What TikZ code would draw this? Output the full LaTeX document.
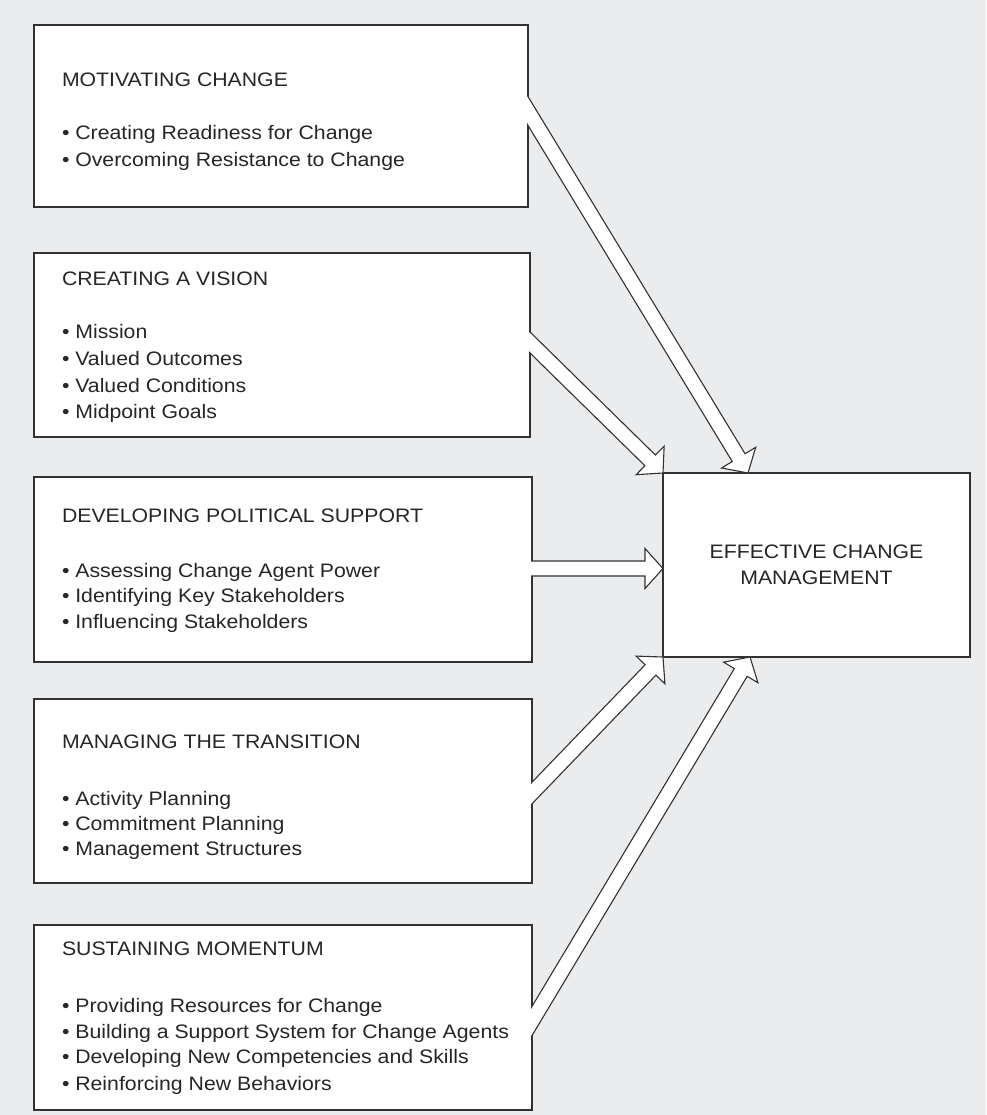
\documentclass[tikz,border=0pt]{standalone}
\usepackage{fontspec}
\setmainfont{Liberation Sans}[FakeStretch=1.09]
\usetikzlibrary{calc}

\definecolor{paper}{RGB}{234,236,238}
\definecolor{ink}{RGB}{50,50,50}
\definecolor{txt}{RGB}{38,38,38}

\tikzset{
  box/.style={rectangle, draw=ink, line width=1.3pt, fill=white,
    inner sep=0pt, outer sep=0pt, anchor=north west},
  head/.style={anchor=base west, inner sep=0pt, outer sep=0pt, text=txt,
    font=\fontsize{19.5}{26}\selectfont},
  item/.style={head},
  arrowline/.style={draw=ink, line width=1.1pt, line join=miter},
}

% half shaft width, half head width, head length of the block arrows
\newcommand\shafthw{7.5pt}
\newcommand\headhw{20pt}
\newcommand\headlen{18pt}

% white block arrow from a point on a box edge (#1) to its tip (#2);
% the tail is tucked into the source box so the box border opens up
\newcommand\fatarrow[2]{%
  \begin{scope}
    \clip ($(#1)+(-0.8,-1200)$) rectangle ($(#1)+(700,1200)$);
    \coordinate (fa-a) at ($(#1)!-14pt!(#2)$);
    \coordinate (fa-n) at ($(#2)!\headlen!(#1)$);
    \coordinate (fa-1) at ($(fa-a)!\shafthw!90:(#2)$);
    \coordinate (fa-2) at ($(fa-n)!\shafthw!90:(#2)$);
    \coordinate (fa-3) at ($(fa-n)!\headhw!90:(#2)$);
    \coordinate (fa-4) at ($(fa-n)!\headhw!-90:(#2)$);
    \coordinate (fa-5) at ($(fa-n)!\shafthw!-90:(#2)$);
    \coordinate (fa-6) at ($(fa-a)!\shafthw!-90:(#2)$);
    \fill[white] (fa-1) -- (fa-2) -- (fa-3) -- (#2) -- (fa-4) -- (fa-5) -- (fa-6) -- cycle;
    \draw[arrowline] (fa-1) -- (fa-2) -- (fa-3) -- (#2) -- (fa-4) -- (fa-5) -- (fa-6);
  \end{scope}}

\begin{document}
\begin{tikzpicture}[x=1pt, y=-1pt]
  \useasboundingbox (0,0) rectangle (986,1115);
  \fill[paper] (0,0) rectangle (986,1115);

  % source boxes
  \node[box, minimum width=494, minimum height=182] (m1) at (34,25) {};
  \node[box, minimum width=496, minimum height=184] (m2) at (34,253) {};
  \node[box, minimum width=498, minimum height=185] (m3) at (34,477) {};
  \node[box, minimum width=498, minimum height=184] (m4) at (34,699) {};
  \node[box, minimum width=498, minimum height=185] (m5) at (34,925) {};

  % target box
  \node[box, minimum width=307, minimum height=184, align=center, text=txt,
        font=\fontsize{19.5}{26}\selectfont] (ecm) at (663,473)
        {EFFECTIVE CHANGE\\MANAGEMENT};

  % box texts
  \node[head] (m1h)  at ($(m1.north west)+(28,62)$)  {MOTIVATING CHANGE};
  \node[item] (m1a)  at ($(m1.north west)+(28,115)$) {•~Creating Readiness for Change};
  \node[item] (m1b)  at ($(m1.north west)+(28,142)$) {•~Overcoming Resistance to Change};

  \node[head] (m2h)  at ($(m2.north west)+(28,32)$)  {CREATING A VISION};
  \node[item] (m2a)  at ($(m2.north west)+(28,85)$)  {•~Mission};
  \node[item] (m2b)  at ($(m2.north west)+(28,112)$) {•~Valued Outcomes};
  \node[item] (m2c)  at ($(m2.north west)+(28,139)$) {•~Valued Conditions};
  \node[item] (m2d)  at ($(m2.north west)+(28,165)$) {•~Midpoint Goals};

  \node[head] (m3h)  at ($(m3.north west)+(28,45)$)  {DEVELOPING POLITICAL SUPPORT};
  \node[item] (m3a)  at ($(m3.north west)+(28,100)$) {•~Assessing Change Agent Power};
  \node[item] (m3b)  at ($(m3.north west)+(28,125)$) {•~Identifying Key Stakeholders};
  \node[item] (m3c)  at ($(m3.north west)+(28,151)$) {•~Influencing Stakeholders};

  \node[head] (m4h)  at ($(m4.north west)+(28,49)$)  {MANAGING THE TRANSITION};
  \node[item] (m4a)  at ($(m4.north west)+(28,106)$) {•~Activity Planning};
  \node[item] (m4b)  at ($(m4.north west)+(28,131)$) {•~Commitment Planning};
  \node[item] (m4c)  at ($(m4.north west)+(28,156)$) {•~Management Structures};

  \node[head] (m5h)  at ($(m5.north west)+(28,30)$)  {SUSTAINING MOMENTUM};
  \node[item] (m5a)  at ($(m5.north west)+(28,87)$)  {•~Providing Resources for Change};
  \node[item] (m5b)  at ($(m5.north west)+(28,113)$) {•~Building a Support System for Change Agents};
  \node[item] (m5c)  at ($(m5.north west)+(28,138)$) {•~Developing New Competencies and Skills};
  \node[item] (m5d)  at ($(m5.north west)+(28,165)$) {•~Reinforcing New Behaviors};

  % arrow ends
  \coordinate (s1) at ($(m1.east)+(0,-5)$);
  \coordinate (t1) at ($(ecm.north west)+(85,0)$);
  \coordinate (s2) at ($(m2.east)+(0,-2.5)$);
  \coordinate (t2) at (ecm.north west);
  \coordinate (s3) at ($(m3.east)+(0,-1)$);
  \coordinate (t3) at (s3 -| ecm.west);
  \coordinate (s4) at ($(m4.east)+(0,2)$);
  \coordinate (t4) at (ecm.south west);
  \coordinate (s5) at ($(m5.east)+(0,3.5)$);
  \coordinate (t5) at ($(ecm.south west)+(87,0)$);

  \fatarrow{s1}{t1}
  \fatarrow{s2}{t2}
  \fatarrow{s3}{t3}
  \fatarrow{s4}{t4}
  \fatarrow{s5}{t5}
\end{tikzpicture}
\end{document}
